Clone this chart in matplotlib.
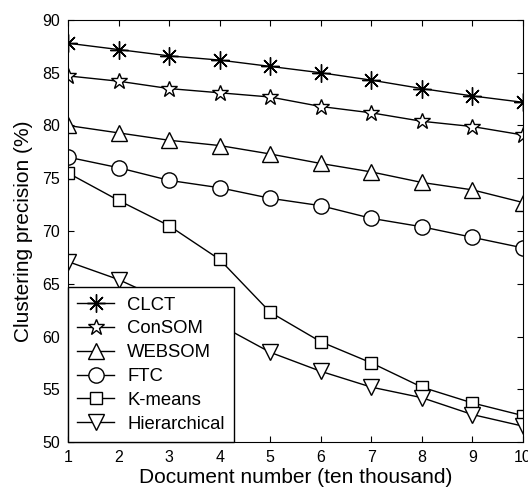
import matplotlib.pyplot as plt
import numpy as np

plt.rcParams['font.family'] = ['Liberation Sans', 'DejaVu Sans']

x = np.arange(1, 11)
clct = [87.8, 87.2, 86.6, 86.2, 85.6, 85.0, 84.3, 83.5, 82.8, 82.2]
consom = [84.7, 84.2, 83.5, 83.1, 82.7, 81.8, 81.2, 80.4, 79.9, 79.1]
websom = [80.0, 79.3, 78.6, 78.1, 77.3, 76.4, 75.6, 74.6, 73.9, 72.7]
ftc = [77.0, 76.0, 74.8, 74.1, 73.1, 72.4, 71.2, 70.4, 69.4, 68.4]
kmeans = [75.5, 72.9, 70.5, 67.3, 62.3, 59.5, 57.5, 55.2, 53.7, 52.5]
hier = [67.1, 65.4, 63.2, 61.1, 58.5, 56.7, 55.2, 54.2, 52.6, 51.5]

fig = plt.figure(figsize=(5.28, 4.94), dpi=100)
ax = fig.add_axes([68 / 528, 52 / 494, 455 / 528, 422 / 494])

kw = dict(color='black', lw=1, mfc='white', mec='black', mew=1)
ax.plot(x, clct, marker=(8, 2, 0), ms=13, label='CLCT', **kw)
ax.plot(x, consom, marker='*', ms=12, label='ConSOM', **kw)
ax.plot(x, websom, marker='^', ms=12, label='WEBSOM', **kw)
ax.plot(x, ftc, marker='o', ms=11, label='FTC', **kw)
ax.plot(x, kmeans, marker='s', ms=9, label='K-means', **kw)
ax.plot(x, hier, marker='v', ms=12, label='Hierarchical', **kw)

ax.set_xlim(1, 10)
ax.set_ylim(50, 90)
ax.set_xticks(x)
ax.set_yticks(np.arange(50, 91, 5))
ax.tick_params(direction='in', top=True, right=True, labelsize=11.5, length=4, pad=6)
ax.set_xlabel('Document number (ten thousand)', fontsize=15, labelpad=2)
ax.set_ylabel('Clustering precision (%)', fontsize=15, labelpad=6)

leg = ax.legend(loc='lower left', fontsize=13.3, fancybox=False, framealpha=1,
                edgecolor='black', borderaxespad=0, handlelength=2.0,
                handletextpad=0.7, labelspacing=0.37, borderpad=0.5)
leg.get_frame().set_linewidth(1)

fig.savefig('out.png')
